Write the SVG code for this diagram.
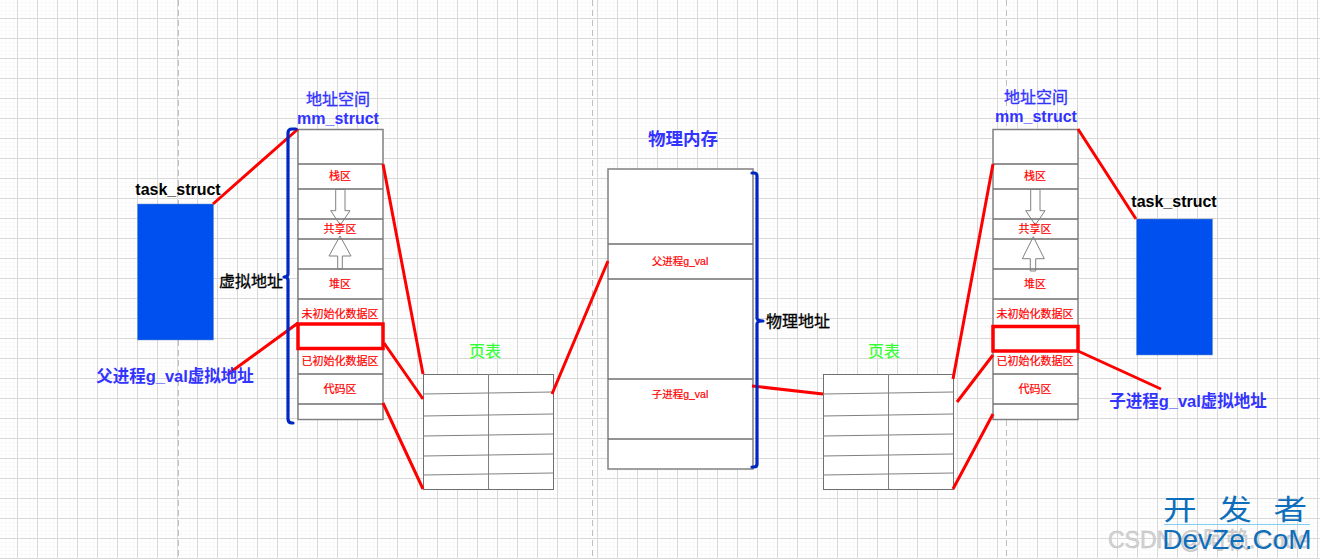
<svg xmlns="http://www.w3.org/2000/svg" width="1320" height="559" viewBox="0 0 1320 559">
<style>
text{font-family:"Liberation Sans","Noto Sans CJK SC",sans-serif;text-anchor:middle}
.box{fill:#fff;stroke:#808080;stroke-width:1.5}
.thin{fill:#fff;stroke:#707070;stroke-width:1}
.row{stroke:#707070;stroke-width:1.3;fill:none}
.tbl{stroke:#808080;stroke-width:1;fill:none}
.red{stroke:#ff0000;stroke-width:3;fill:none}
.redbox{stroke:#ff0000;stroke-width:3.5;fill:none}
.brace{stroke:#0027c4;stroke-width:3.2;fill:none;stroke-linecap:round;stroke-linejoin:round}
.arrow{fill:#fff;fill-opacity:0;stroke:#808080;stroke-width:1}
.zone{fill:#ff0000;font-size:11px;stroke:#ff0000;stroke-width:.2}
.small{font-size:10.500px}
.blue{fill:#3333ff;font-weight:bold;font-size:16.500px}
.mm{fill:#3333ff;font-weight:bold;font-size:16px}
.title{fill:#3333ff;font-size:16px;stroke:#3333ff;stroke-width:.3}
.head{fill:#3333ff;font-weight:bold;font-size:17.500px}
.blk{fill:#000;font-size:16px;font-weight:bold}
.addr{fill:#000;font-size:16px;stroke:#000;stroke-width:.3}
.green{fill:#33ff33;font-size:16px;stroke:#33ff33;stroke-width:.2}
.task{fill:#0050ef;stroke:#6c8ebf;stroke-width:.5}
</style>
<defs>
<pattern id="minor" width="4" height="4" patternUnits="userSpaceOnUse" x="1" y="2"><path d="M4 0H0V4" fill="none" stroke="#f6f6f6" stroke-width="1"/></pattern>
<pattern id="major" width="20" height="20" patternUnits="userSpaceOnUse" x="17" y="18"><path d="M20 .5H.5V20" fill="none" stroke="#d8d8d8" stroke-width="1"/></pattern>
</defs>
<g id="background">
<rect width="1320" height="559" fill="#fff"/>
<rect width="1320" height="559" fill="url(#minor)"/>
<rect width="1320" height="559" fill="url(#major)"/>
<path d="M178.500 0V559M592.500 0V559M1006.500 0V559" stroke="#c0c0c0" stroke-width="1" stroke-dasharray="6 4" fill="none"/>
</g>
<g id="task-left"><rect class="task" x="137.500" y="204" width="76" height="136"/><text class="blk" x="178" y="195">task_struct</text></g>
<g id="task-right"><rect class="task" x="1136.500" y="219" width="76" height="136"/><text class="blk" x="1174" y="207">task_struct</text></g>
<g id="stack-left">
<rect class="box" x="298" y="129.500" width="85" height="290"/>
<path class="row" d="M298 164H383M298 189H383M298 219H383M298 239H383M298 269H383M298 299H383M298 374H383M298 404H383"/>
<path class="arrow" d="M335.700 189.500H345V210.700H350L340.300 225L330.700 210.700H335.700Z"/>
<path class="arrow" d="M340 236L351 256H342.300V269H337.700V256H329Z"/>
<text class="zone" x="340" y="180">栈区</text><text class="zone" x="340" y="233">共享区</text><text class="zone" x="340" y="288">堆区</text><text class="zone" x="340" y="318">未初始化数据区</text><text class="zone" x="340" y="365">已初始化数据区</text><text class="zone" x="340" y="393">代码区</text>
<text class="title" x="338" y="105">地址空间</text><text class="mm" x="338" y="124">mm_struct</text>
</g>
<g id="stack-right">
<rect class="box" x="993" y="129.500" width="85" height="290"/>
<path class="row" d="M993 164H1078M993 189H1078M993 219H1078M993 239H1078M993 269H1078M993 299H1078M993 374H1078M993 404H1078"/>
<path class="arrow" d="M1030.700 189.500H1040V210.700H1045L1035.300 225L1025.700 210.700H1030.700Z"/>
<path class="arrow" d="M1033.300 236.700L1044.300 258.700H1035.700V271H1030.300V258.700H1022.300Z"/>
<text class="zone" x="1035" y="180">栈区</text><text class="zone" x="1035" y="233">共享区</text><text class="zone" x="1035" y="288">堆区</text><text class="zone" x="1035" y="318">未初始化数据区</text><text class="zone" x="1035" y="365">已初始化数据区</text><text class="zone" x="1035" y="393">代码区</text>
<text class="title" x="1036" y="103">地址空间</text><text class="mm" x="1036" y="122">mm_struct</text>
</g>
<g id="physical">
<rect class="box" x="608" y="169" width="145" height="300"/>
<path class="row" d="M608 244H753M608 279H753M608 379H753M608 439H753"/>
<text class="zone small" x="680" y="265">父进程g_val</text><text class="zone small" x="680" y="398">子进程g_val</text>
<text class="head" x="683" y="145">物理内存</text>
</g>
<g id="page-left">
<rect class="thin" x="423.500" y="374.500" width="130" height="115"/>
<path class="tbl" d="M488.500 374V489M423 394L553 392M423 416L553 414M423 436L553 434M423 456L553 454M423 475L553 473"/>
<text class="green" x="485" y="357">页表</text>
</g>
<g id="page-right">
<rect class="thin" x="823.500" y="374.500" width="130" height="115"/>
<path class="tbl" d="M888.500 374V489M823 394L953 392M823 416L953 414M823 436L953 434M823 456L953 454M823 475L953 473"/>
<text class="green" x="884" y="357">页表</text>
</g>
<g id="connectors">
<path class="red" d="M213 204L298 129M383 164L423 374M384 343L423 399M383 403L423 489M228 374L298 323M552 394L608 261M752 386L823 394M953 379L993 164M957 402L993 355M953 489L993 414M1078 129L1136 219M1078 351L1161 389"/>
<rect class="redbox" x="298" y="324" width="85" height="24.500"/>
<rect class="redbox" x="993" y="326.500" width="85" height="24.500"/>
<path class="brace" d="M296 129H292Q288 129 288 133V274Q288 277 284 277Q288 277 288 280V419Q288 423 292 423H293"/>
<path class="brace" d="M752 173H754Q757 173 757 176V318Q757 321 763 321Q757 321 757 324V464Q757 467 754 467H752"/>
</g>
<g id="labels">
<text class="addr" x="251" y="287">虚拟地址</text>
<text class="addr" x="798" y="327">物理地址</text>
<text class="blue" x="175" y="382">父进程g_val虚拟地址</text>
<text class="blue" x="1188" y="407">子进程g_val虚拟地址</text>
</g>
<g id="watermark">
<text x="1108" y="548" style="fill:#d2d2d2;font-size:23px;text-anchor:start;stroke:#bdbdbd;stroke-width:.4">CSDN @阿赖.Code</text>
<text transform="translate(1163 520) scale(1.2 1)" x="0 46 92" style="fill:#0d6ebc;font-size:28px;text-anchor:start">开发者</text>
<path d="M1164 524.500H1310" stroke="#7fd0f0" stroke-width="1"/>
<text x="1237" y="548.500" style="fill:#0d6ebc;font-size:28px">DevZe.CoM</text>
</g>
</svg>
